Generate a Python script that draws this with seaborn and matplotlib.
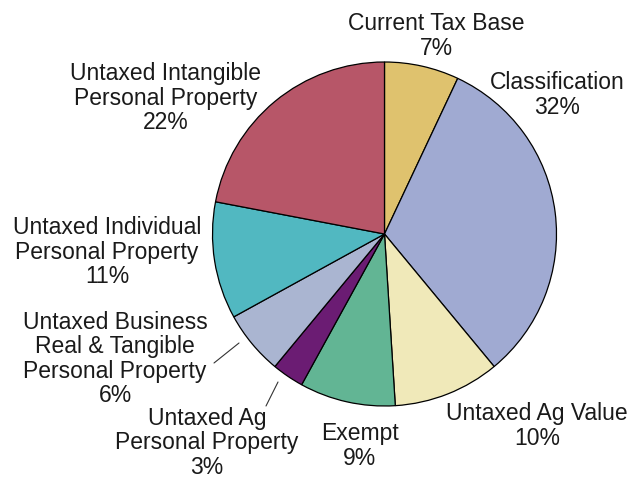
import matplotlib
matplotlib.use('Agg')
import matplotlib.pyplot as plt
import seaborn as sns

categories = ['Current Tax Base', 'Classification', 'Untaxed Ag Value', 'Exempt',
              'Untaxed Ag Personal Property', 'Untaxed Business Real & Tangible Personal Property',
              'Untaxed Individual Personal Property', 'Untaxed Intangible Personal Property']
shares = [7, 32, 10, 9, 3, 6, 11, 22]
label_text = ['Current Tax Base\n7%', 'Classification\n32%', 'Untaxed Ag Value\n10%',
              'Exempt\n9%', 'Untaxed Ag\nPersonal Property\n3%',
              'Untaxed Business\nReal & Tangible\nPersonal Property\n6%',
              'Untaxed Individual\nPersonal Property\n11%',
              'Untaxed Intangible\nPersonal Property\n22%']
colors = ['#DFC26E', '#A0AAD2', '#F0E9B9', '#62B594', '#6B1C73', '#AAB5D1',
          '#51B8C1', '#B75668']

# label positions in pixels (x, y from top)
label_pos = [(436, 36), (557, 95), (537, 426), (360, 446), (207, 443),
             (115, 359), (107, 252), (166, 98)]

sns.set_style('white')
plt.rcParams['font.family'] = ['Liberation Sans', 'DejaVu Sans']

W, H = 632, 478
fig = plt.figure(figsize=(W / 100, H / 100), dpi=100)
ax = fig.add_axes([0, 0, 1, 1])
ax.set_xlim(0, W); ax.set_ylim(0, H)
ax.set_aspect('equal')
ax.axis('off')

ax.pie(shares, colors=colors, startangle=90, counterclock=False,
       center=(384.5, H - 234), radius=172,
       wedgeprops=dict(edgecolor='black', linewidth=0.9))
ax.set_xlim(0, W); ax.set_ylim(0, H)

for txt, (x, y) in zip(label_text, label_pos):
    ax.text(x, H - y, txt, ha='center', va='center', fontsize=16.5,
            linespacing=1.08, color='#1a1a1a')

# leader lines for the two small slices
ax.plot([239, 214], [H - 343, H - 363], color='#333333', lw=0.8)
ax.plot([278, 266], [H - 382, H - 406], color='#333333', lw=0.8)

fig.savefig('out.png', dpi=100)
plt.close()
